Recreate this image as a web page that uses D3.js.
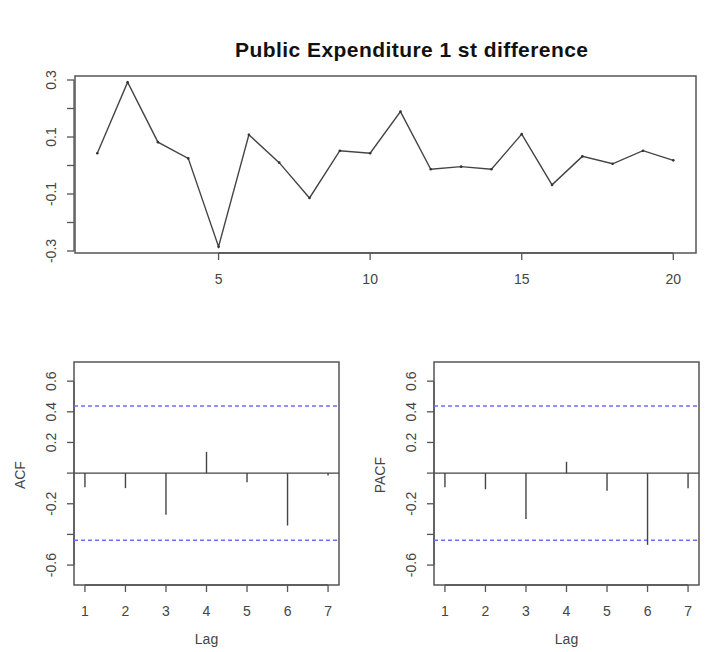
<!DOCTYPE html>
<html>
<head>
<meta charset="utf-8">
<script src="https://cdn.jsdelivr.net/npm/d3@7"></script>
<style>
  body { margin: 0; background: #fff; }
  text { font-family: "Liberation Sans", Arial, sans-serif; fill: #444; }
</style>
</head>
<body>
<svg id="chart" width="716" height="652"></svg>
<script>
"use strict";

// data
const title = "Public Expenditure 1 st difference";
const series = [0.043, 0.292, 0.082, 0.025, -0.285, 0.108, 0.010, -0.114, 0.052, 0.043,
                0.189, -0.013, -0.004, -0.013, 0.110, -0.068, 0.032, 0.006, 0.052, 0.018];
const seriesYTicks = [-0.3, -0.2, -0.1, 0, 0.1, 0.2, 0.3];
const seriesYLabels = [-0.3, -0.1, 0.1, 0.3];
const seriesXTicks = [5, 10, 15, 20];

const lags = [1, 2, 3, 4, 5, 6, 7];
const acfValues = [-0.092, -0.098, -0.272, 0.139, -0.059, -0.342, -0.015];
const pacfValues = [-0.092, -0.105, -0.300, 0.074, -0.115, -0.468, -0.098];
const confLimit = 0.438;
const corrYTicks = [-0.6, -0.4, -0.2, 0, 0.2, 0.4, 0.6];
const corrYLabels = [-0.6, -0.2, 0.2, 0.4, 0.6];


const svg = d3.select("#chart");
const tickLen = 7;
const labelSize = 14;

function fmt(v) {
    return v.toFixed(1);
}

// vertical y axis with rotated labels, R style
function yAxis(g, scale, x, ticks, labels) {
    g.append("line")
    .attr("x1", x).attr("x2", x)
    .attr("y1", scale(d3.min(ticks))).attr("y2", scale(d3.max(ticks)))
    .attr("stroke", "#555").attr("stroke-width", 1.3);
    g.selectAll("line.ytick")
    .data(ticks)
    .join("line")
    .attr("class", "ytick")
    .attr("x1", x - tickLen).attr("x2", x)
    .attr("y1", d => scale(d)).attr("y2", d => scale(d))
    .attr("stroke", "#555").attr("stroke-width", 1.3);
    g.selectAll("text.ylab")
    .data(labels)
    .join("text")
    .attr("class", "ylab")
    .attr("transform", d => `translate(${x - 18}, ${scale(d)}) rotate(-90)`)
    .attr("text-anchor", "middle")
    .attr("font-size", labelSize)
    .text(d => fmt(d));
}

function xAxis(g, scale, y, ticks) {
    g.append("line")
    .attr("x1", scale(d3.min(ticks))).attr("x2", scale(d3.max(ticks)))
    .attr("y1", y).attr("y2", y)
    .attr("stroke", "#555").attr("stroke-width", 1.3);
    g.selectAll("line.xtick")
    .data(ticks)
    .join("line")
    .attr("class", "xtick")
    .attr("x1", d => scale(d)).attr("x2", d => scale(d))
    .attr("y1", y).attr("y2", y + tickLen)
    .attr("stroke", "#555").attr("stroke-width", 1.3);
    g.selectAll("text.xlab")
    .data(ticks)
    .join("text")
    .attr("class", "xlab")
    .attr("x", d => scale(d))
    .attr("y", y + 31)
    .attr("text-anchor", "middle")
    .attr("font-size", labelSize)
    .text(d => d);
}

function box(g, x0, x1, y0, y1) {
    g.append("rect")
    .attr("x", x0).attr("y", y0)
    .attr("width", x1 - x0).attr("height", y1 - y0)
    .attr("fill", "none")
    .attr("stroke", "#555").attr("stroke-width", 1.5);
}


// top panel: time series
const tsBox = {left: 75, right: 696, top: 76, bottom: 253};
let gTop = svg.append("g");

let scaleX = d3.scaleLinear().domain([1, 20]).range([97.3, 673.3]);
let scaleY = d3.scaleLinear().domain([-0.3, 0.3]).range([251, 80]);

box(gTop, tsBox.left, tsBox.right, tsBox.top, tsBox.bottom);
yAxis(gTop, scaleY, tsBox.left - 1, seriesYTicks, seriesYLabels);
xAxis(gTop, scaleX, tsBox.bottom, seriesXTicks);

let line = d3.line()
.x((d, i) => scaleX(i + 1))
.y(d => scaleY(d));

gTop.append("path")
.datum(series)
.attr("d", line)
.attr("fill", "none")
.attr("stroke", "#444")
.attr("stroke-width", 1.4);

gTop.selectAll("circle")
.data(series)
.join("circle")
.attr("cx", (d, i) => scaleX(i + 1))
.attr("cy", d => scaleY(d))
.attr("r", 1.3)
.attr("fill", "#333");

svg.append("text")
.attr("x", 411.5)
.attr("y", 57)
.attr("text-anchor", "middle")
.attr("font-size", 21)
.attr("font-weight", "bold")
.attr("textLength", 353)
.attr("lengthAdjust", "spacing")
.style("fill", "#111")
.text(title);


// bottom panels: ACF and PACF
function corrPanel(offsetX, values, label) {
    const p = {left: 74 + offsetX, right: 339 + offsetX, top: 362, bottom: 585};
    let g = svg.append("g");

    let sx = d3.scaleLinear().domain([0.73, 7.27]).range([p.left, p.right]);
    let sy = d3.scaleLinear().domain([-0.73, 0.725]).range([p.bottom, p.top]);

    box(g, p.left, p.right, p.top, p.bottom);
    yAxis(g, sy, p.left, corrYTicks, corrYLabels);
    xAxis(g, sx, p.bottom, lags);

    // zero line
    g.append("line")
    .attr("x1", p.left).attr("x2", p.right)
    .attr("y1", sy(0)).attr("y2", sy(0))
    .attr("stroke", "#444").attr("stroke-width", 1.4);

    // confidence limits
    [confLimit, -confLimit].forEach(c => {
        g.append("line")
        .attr("x1", p.left).attr("x2", p.right)
        .attr("y1", sy(c)).attr("y2", sy(c))
        .attr("stroke", "#6f6ff5")
        .attr("stroke-width", 1.6)
        .attr("stroke-dasharray", "4,3");
    });

    // spikes
    g.selectAll("line.spike")
    .data(values)
    .join("line")
    .attr("class", "spike")
    .attr("x1", (d, i) => sx(lags[i])).attr("x2", (d, i) => sx(lags[i]))
    .attr("y1", sy(0)).attr("y2", d => sy(d))
    .attr("stroke", "#444").attr("stroke-width", 1.4);

    g.append("text")
    .attr("transform", `translate(${offsetX + 25}, ${sy(0) + 2}) rotate(-90)`)
    .attr("text-anchor", "middle")
    .attr("font-size", labelSize)
    .text(label);

    g.append("text")
    .attr("x", sx(4))
    .attr("y", 644)
    .attr("text-anchor", "middle")
    .attr("font-size", labelSize)
    .text("Lag");
}

corrPanel(0, acfValues, "ACF");
corrPanel(360, pacfValues, "PACF");
</script>
</body>
</html>
